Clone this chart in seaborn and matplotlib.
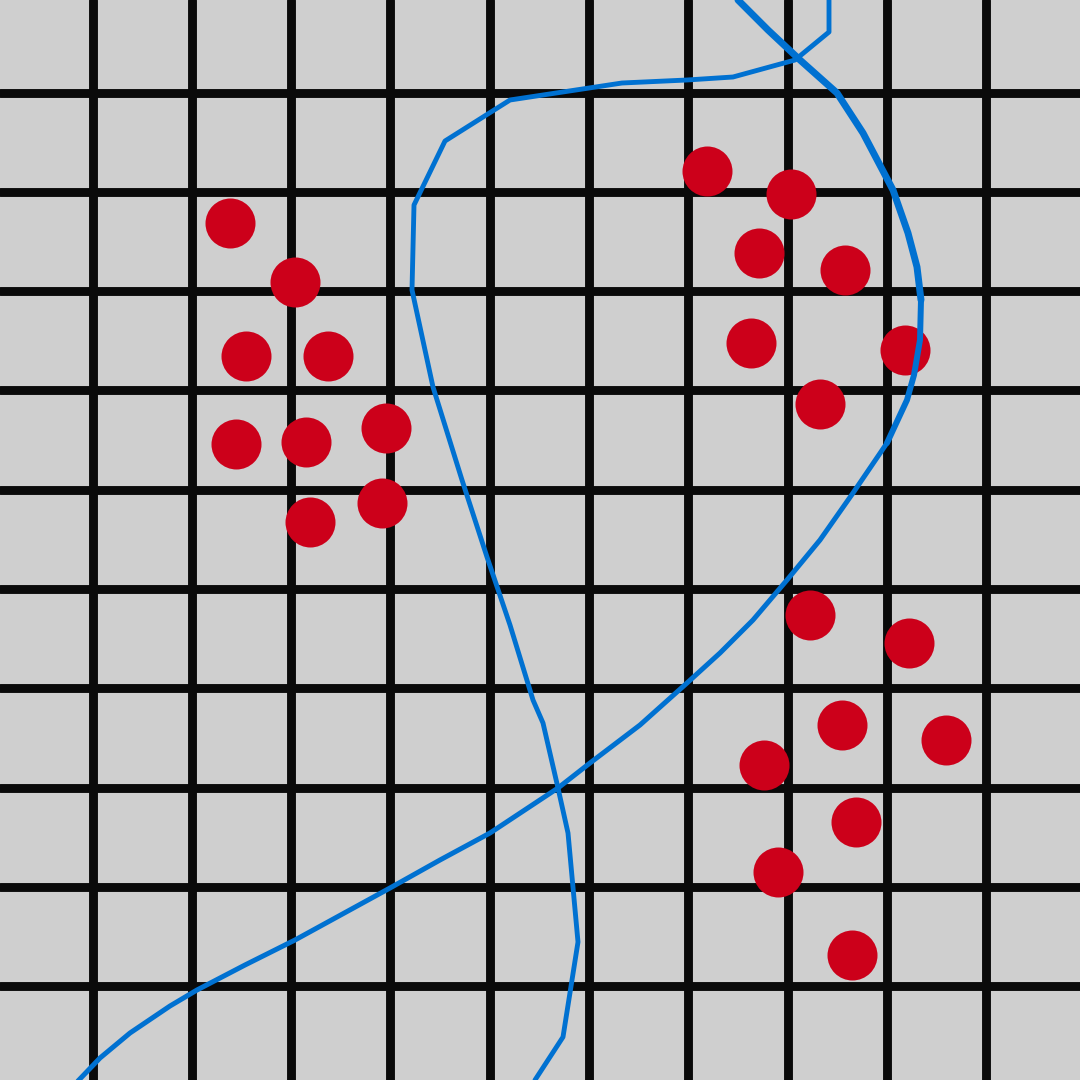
import pandas as pd
import matplotlib.pyplot as plt
import seaborn as sns

# grid positions (pixel units of the 1080 canvas)
grid_pos = [93, 192, 291, 390, 490, 589, 688, 788, 887, 986]

# red dots
dot_x = [230, 295, 246, 328, 236, 306, 386, 310, 382,
         707, 791, 759, 845, 751, 905, 820,
         810, 909, 842, 946, 764, 856, 778, 852]
dot_y = [223, 282, 356, 356, 444, 442, 428, 522, 503,
         171, 194, 253, 270, 343, 350, 404,
         615, 643, 725, 740, 765, 822, 872, 955]

# jagged blue path
path_x = [829, 829, 795, 733, 687, 622, 510, 445, 414, 412, 433, 462,
          487, 510, 533, 543, 558, 568, 578, 563, 535]
path_y = [0, 32, 60, 77, 80, 83, 100, 141, 205, 290, 387, 480,
          557, 625, 700, 723, 788, 833, 942, 1037, 1080]

# smooth blue curve
curve_x = [738, 768, 800, 837, 863, 893, 908, 917, 921, 920, 914, 907,
           887, 853, 820, 787, 753, 720, 687, 640, 590, 558, 490, 440,
           390, 295, 245, 197, 170, 130, 100, 77]
curve_y = [0, 30, 60, 93, 133, 190, 233, 267, 300, 340, 375, 400,
           443, 493, 540, 580, 620, 653, 683, 725, 763, 788, 833, 860,
           888, 940, 965, 990, 1006, 1033, 1058, 1082]
# the curve gets thinner towards the bottom
curve_breaks = [(0, 9, 5.0), (8, 13, 4.3), (12, len(curve_x), 3.6)]


def main():
    dots = pd.DataFrame({'x': dot_x, 'y': dot_y})
    path = pd.DataFrame({'x': path_x, 'y': path_y})
    curve = pd.DataFrame({'x': curve_x, 'y': curve_y})

    sns.set_theme(style="white")
    fig = plt.figure(figsize=(10.8, 10.8), dpi=100)
    ax = fig.add_axes([0, 0, 1, 1])
    ax.set_facecolor('#cfcfcf')

    # grid
    ax.set_xticks(grid_pos)
    ax.set_yticks(grid_pos)
    ax.set_axisbelow(True)
    ax.grid(True, color='#0a0a0a', linewidth=6.4)
    ax.tick_params(length=0, labelbottom=False, labelleft=False)
    for s in ax.spines.values():
        s.set_visible(False)

    sns.scatterplot(x='x', y='y', data=dots, color='#cc001a', s=1296,
                    linewidth=0, ax=ax, zorder=2)
    sns.lineplot(x='x', y='y', data=path, sort=False, estimator=None,
                 color='#0071d1', linewidth=3.5, ax=ax, zorder=3)
    for start, stop, lw in curve_breaks:
        sns.lineplot(x='x', y='y', data=curve.iloc[start:stop], sort=False,
                     estimator=None, color='#0071d1', linewidth=lw,
                     solid_joinstyle='round', solid_capstyle='round',
                     ax=ax, zorder=3)

    ax.set_xlim(0, 1080)
    ax.set_ylim(1080, 0)
    ax.set_xlabel('')
    ax.set_ylabel('')

    plt.savefig('out.png', dpi=100)
    plt.close()


if __name__ == "__main__":
    main()
